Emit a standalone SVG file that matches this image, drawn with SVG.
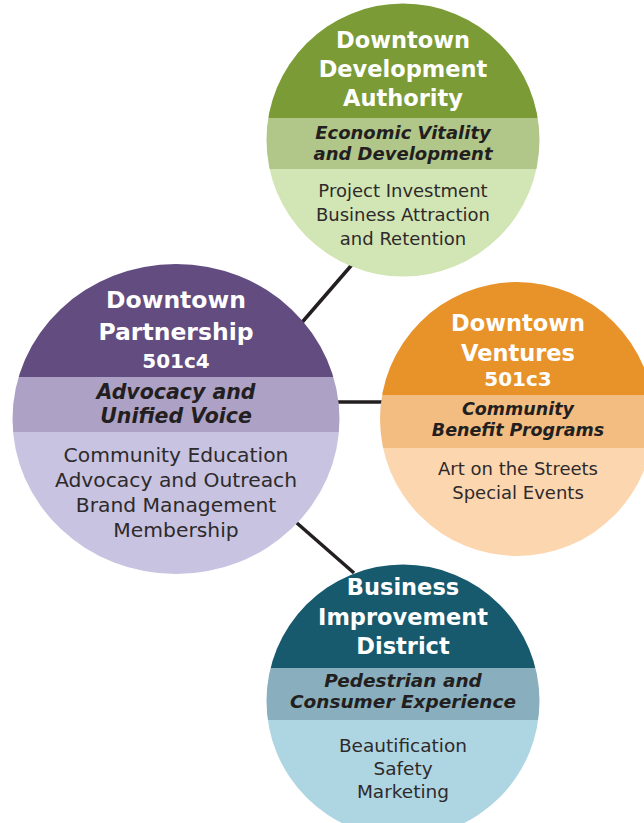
<svg xmlns="http://www.w3.org/2000/svg" width="644" height="823" viewBox="0 0 644 823">
<style>
.conn{stroke:#231f20;stroke-width:3.5;fill:none;stroke-linecap:butt}
.title{font-family:"DejaVu Sans","Liberation Sans",sans-serif;font-weight:bold;fill:#ffffff;text-anchor:middle}
.band{font-family:"DejaVu Sans","Liberation Sans",sans-serif;font-weight:bold;font-style:oblique;fill:#231f20;text-anchor:middle}
.body{font-family:"DejaVu Sans","Liberation Sans",sans-serif;fill:#2e2a2b;text-anchor:middle}
</style>
<defs>
<clipPath id="clipDDA"><circle cx="403" cy="140" r="136.5"/></clipPath>
<clipPath id="clipDP"><ellipse cx="176" cy="419" rx="163.5" ry="155"/></clipPath>
<clipPath id="clipDV"><circle cx="517" cy="419" r="137"/></clipPath>
<clipPath id="clipBID"><circle cx="403" cy="701" r="136.5"/></clipPath>
</defs>
<rect width="644" height="823" fill="#ffffff"/>
<g id="connectors">
<line class="conn" x1="356" y1="260" x2="298" y2="327"/>
<line class="conn" x1="330" y1="402" x2="388" y2="402"/>
<line class="conn" x1="290" y1="517" x2="354" y2="573"/>
</g>
<g id="dda">
<g clip-path="url(#clipDDA)">
<rect x="260" y="0" width="290" height="118" fill="#7b9b36"/>
<rect x="260" y="118" width="290" height="51" fill="#b1c78a"/>
<rect x="260" y="169" width="290" height="120" fill="#d2e5b4"/>
</g>
<text class="title" x="403" y="48" font-size="22.5">Downtown</text>
<text class="title" x="403" y="77" font-size="22.5">Development</text>
<text class="title" x="403" y="106" font-size="22.5">Authority</text>
<text class="band" x="403" y="139" font-size="18">Economic Vitality</text>
<text class="band" x="403" y="160" font-size="18">and Development</text>
<text class="body" x="403" y="197" font-size="18">Project Investment</text>
<text class="body" x="403" y="221" font-size="18">Business Attraction</text>
<text class="body" x="403" y="245" font-size="18">and Retention</text>
</g>
<g id="partnership">
<g clip-path="url(#clipDP)">
<rect x="0" y="260" width="345" height="117" fill="#624c80"/>
<rect x="0" y="377" width="345" height="55" fill="#ada2c5"/>
<rect x="0" y="432" width="345" height="150" fill="#c7c3e0"/>
</g>
<text class="title" x="176" y="308" font-size="23.5">Downtown</text>
<text class="title" x="176" y="340" font-size="23.5">Partnership</text>
<text class="title" x="176" y="368" font-size="20">501c4</text>
<text class="band" x="176" y="399" font-size="20.5">Advocacy and</text>
<text class="band" x="176" y="423" font-size="20.5">Unified Voice</text>
<text class="body" x="176" y="462" font-size="20.3">Community Education</text>
<text class="body" x="176" y="487" font-size="20.3">Advocacy and Outreach</text>
<text class="body" x="176" y="512" font-size="20.3">Brand Management</text>
<text class="body" x="176" y="537" font-size="20.3">Membership</text>
</g>
<g id="ventures">
<g clip-path="url(#clipDV)">
<rect x="375" y="278" width="290" height="117" fill="#e8922a"/>
<rect x="375" y="395" width="290" height="53" fill="#f3bd82"/>
<rect x="375" y="448" width="290" height="115" fill="#fcd6ae"/>
</g>
<text class="title" x="518" y="331" font-size="22.5">Downtown</text>
<text class="title" x="518" y="361" font-size="22.5">Ventures</text>
<text class="title" x="518" y="386" font-size="20">501c3</text>
<text class="band" x="518" y="415" font-size="17.5">Community</text>
<text class="band" x="518" y="436" font-size="17.5">Benefit Programs</text>
<text class="body" x="518" y="475" font-size="18">Art on the Streets</text>
<text class="body" x="518" y="499" font-size="18">Special Events</text>
</g>
<g id="bid">
<g clip-path="url(#clipBID)">
<rect x="260" y="560" width="290" height="108" fill="#175a6e"/>
<rect x="260" y="668" width="290" height="52" fill="#89afbe"/>
<rect x="260" y="720" width="290" height="120" fill="#aed5e2"/>
</g>
<text class="title" x="403" y="595" font-size="22.5">Business</text>
<text class="title" x="403" y="625" font-size="22.5">Improvement</text>
<text class="title" x="403" y="654" font-size="22.5">District</text>
<text class="band" x="403" y="687" font-size="18.5">Pedestrian and</text>
<text class="band" x="403" y="708" font-size="18.5">Consumer Experience</text>
<text class="body" x="403" y="752" font-size="18.5">Beautification</text>
<text class="body" x="403" y="775" font-size="18.5">Safety</text>
<text class="body" x="403" y="798" font-size="18.5">Marketing</text>
</g>
</svg>
